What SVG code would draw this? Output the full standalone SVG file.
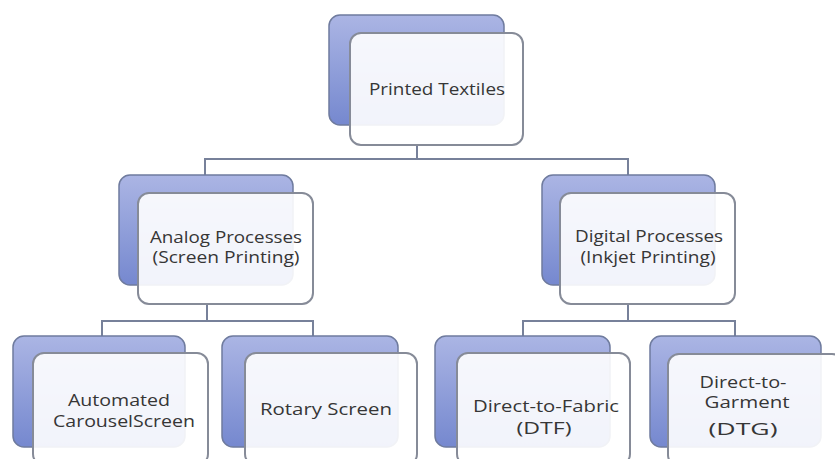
<svg xmlns="http://www.w3.org/2000/svg" width="835" height="459" viewBox="0 0 835 459">
<defs>
<linearGradient id="bg" x1="0" y1="0" x2="0" y2="1">
<stop offset="0" stop-color="#abb5e4"/>
<stop offset="1" stop-color="#7588cf"/>
</linearGradient>
<style>
.back{fill:url(#bg);stroke:#6f7b9e;stroke-width:1.5}
.front{fill:#ffffff;fill-opacity:0.9;stroke:#868b98;stroke-width:2}
.conn{fill:none;stroke:#77819a;stroke-width:2}
text{font-family:"Open Sans","Liberation Sans",sans-serif;font-size:16px;fill:#363636;text-anchor:middle}
</style>
</defs>
<rect width="835" height="459" fill="#ffffff"/>
<g id="connectors">
<path class="conn" d="M417 145 V159 M205 175 V159 H628 V175"/>
<path class="conn" d="M207 304 V321 M102 336 V321 H313 V336"/>
<path class="conn" d="M628 304 V321 M523 336 V321 H735 V336"/>
</g>
<g id="printed-textiles">
<rect class="back" x="329" y="15" width="175" height="110" rx="11"/>
<rect class="front" x="350" y="33" width="173" height="112" rx="11"/>
<text x="437" y="95" textLength="136" lengthAdjust="spacingAndGlyphs">Printed Textiles</text>
</g>
<g id="analog">
<rect class="back" x="119" y="175" width="174" height="110" rx="11"/>
<rect class="front" x="138" y="193" width="175" height="111" rx="11"/>
<text x="226" y="243" textLength="152" lengthAdjust="spacingAndGlyphs">Analog Processes</text>
<text x="226" y="263" textLength="147" lengthAdjust="spacingAndGlyphs">(Screen Printing)</text>
</g>
<g id="digital">
<rect class="back" x="542" y="175" width="173" height="110" rx="11"/>
<rect class="front" x="560" y="193" width="175" height="111" rx="11"/>
<text x="649" y="242" textLength="148" lengthAdjust="spacingAndGlyphs">Digital Processes</text>
<text x="648" y="263" textLength="135" lengthAdjust="spacingAndGlyphs">(Inkjet Printing)</text>
</g>
<g id="carousel">
<rect class="back" x="13" y="336" width="172" height="111" rx="11"/>
<rect class="front" x="33" y="353" width="175" height="112" rx="11"/>
<text x="119" y="406" textLength="102" lengthAdjust="spacingAndGlyphs">Automated</text>
<text x="124" y="427" textLength="142" lengthAdjust="spacingAndGlyphs">CarouselScreen</text>
</g>
<g id="rotary">
<rect class="back" x="222" y="336" width="176" height="111" rx="11"/>
<rect class="front" x="245" y="353" width="172" height="112" rx="11"/>
<text x="326" y="415" textLength="132" lengthAdjust="spacingAndGlyphs">Rotary Screen</text>
</g>
<g id="dtf">
<rect class="back" x="435" y="336" width="175" height="111" rx="11"/>
<rect class="front" x="457" y="353" width="173" height="112" rx="11"/>
<text x="546" y="412" textLength="146" lengthAdjust="spacingAndGlyphs">Direct-to-Fabric</text>
<text x="544" y="434" textLength="55" lengthAdjust="spacingAndGlyphs">(DTF)</text>
</g>
<g id="dtg">
<rect class="back" x="650" y="336" width="171" height="111" rx="11"/>
<rect class="front" x="668" y="354" width="175" height="112" rx="11"/>
<text x="743" y="388" textLength="87" lengthAdjust="spacingAndGlyphs">Direct-to-</text>
<text x="747" y="408" textLength="85" lengthAdjust="spacingAndGlyphs">Garment</text>
<text x="743" y="435" textLength="69" lengthAdjust="spacingAndGlyphs">(DTG)</text>
</g>
</svg>
